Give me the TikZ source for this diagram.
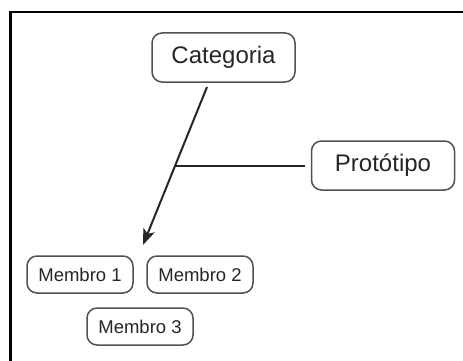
\documentclass[tikz,border=0pt]{standalone}
\usepackage{fontspec}
\setmainfont{Liberation Sans}
\usetikzlibrary{arrows.meta,calc}
\definecolor{txt}{HTML}{262626}
\definecolor{edge}{HTML}{505050}
\tikzset{
  concept/.style={draw=edge, line width=1.5pt, rounded corners=10pt, fill=white,
    text=txt, inner sep=0pt, align=center},
  big/.style={concept, minimum width=143pt, minimum height=49pt, font=\fontsize{24}{28}\selectfont},
  small/.style={concept, minimum width=106pt, minimum height=37pt, font=\fontsize{18.5}{22}\selectfont},
  link/.style={draw=black!85, line width=2pt},
  frame/.style={draw=black, line width=2.8pt}
}
\begin{document}
\begin{tikzpicture}[x=1pt,y=-1pt]
\useasboundingbox (0,0) rectangle (463,361);
\fill[white] (0,0) rectangle (463,361);
\draw[frame] (10.3,361) -- (10.3,12) -- (463,12);
\node[big] (cat) at (223.5,57.5) {Categoria};
\node[big] (pro) at (383,165.5) {Protótipo};
\node[small] (m1) at (80,274.5) {Membro 1};
\node[small] (m2) at (200,274.5) {Membro 2};
\node[small] (m3) at (140,326.5) {Membro 3};
\coordinate (s) at (207,87);
\coordinate (tip) at (143,245);
\coordinate (j) at ($(s)!0.5!(tip)$);
\draw[link, -{Stealth[length=16pt,width=12pt,inset=4pt]}] (s) -- (tip);
\draw[link, shorten >=6pt] (j) -- (j -| pro.west);
\end{tikzpicture}
\end{document}
